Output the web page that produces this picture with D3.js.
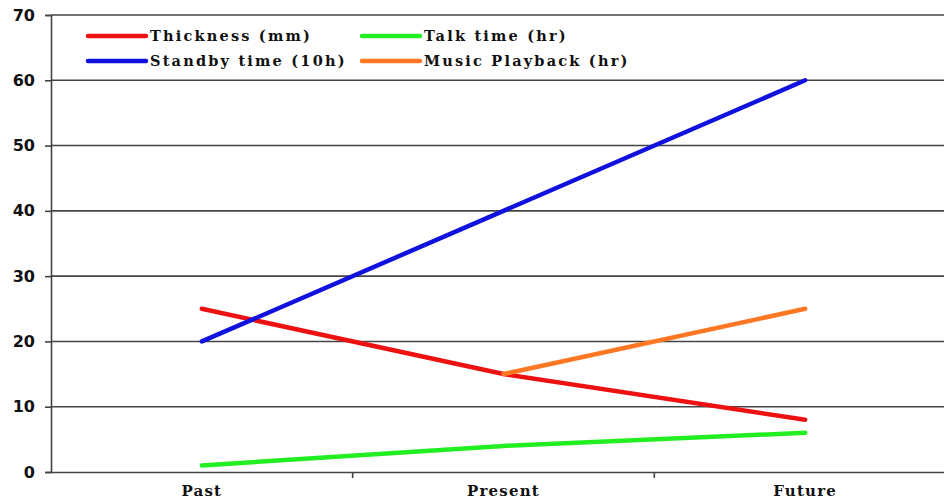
<!DOCTYPE html>
<html><head><meta charset="utf-8">
<script src="https://cdn.jsdelivr.net/npm/d3@7"></script>
<style>body{margin:0;background:#fff;overflow:hidden}</style>
</head><body><svg id="c" width="944" height="501"></svg>
<script>
const categories = ["Past", "Present", "Future"];
const thickness = [25, 15, 8];
const talkTime = [1, 4, 6];
const standby = [20, 40, 60];
const music = [null, 15, 25];
const yTicks = [0, 10, 20, 30, 40, 50, 60, 70];
const seriesNames = ["Thickness (mm)", "Talk time (hr)", "Standby time (10h)", "Music Playback (hr)"];
const seriesColors = ["#ee1111", "#22ee22", "#1111dd", "#ff7722"];
const seriesData = [thickness, talkTime, standby, music];

const svg = d3.select("#c");
const x = d3.scaleBand().domain(categories).range([51, 956]);
const y = d3.scaleLinear().domain([0, 70]).range([472, 15]);

// gridlines
svg.append("g").selectAll("line").data(yTicks.slice(1)).join("line")
  .attr("x1", 51).attr("x2", 944)
  .attr("y1", d => y(d)).attr("y2", d => y(d))
  .attr("stroke", "#444").attr("stroke-width", 1.6);

// y axis
const ya = svg.append("g").attr("transform", "translate(51,0)")
  .call(d3.axisLeft(y).tickValues(yTicks).tickSize(6).tickPadding(10));
ya.select(".domain").attr("stroke", "#444").attr("stroke-width", 1.6);
ya.selectAll(".tick line").attr("stroke", "#444").attr("stroke-width", 1.6);
ya.selectAll("text").attr("font-family", "DejaVu Sans").attr("font-weight", "bold")
  .attr("font-size", 16).attr("fill", "#111");

// x axis
const xa = svg.append("g").attr("transform", "translate(0,472)")
  .call(d3.axisBottom(x).tickSize(0).tickPadding(13));
xa.select(".domain").attr("stroke", "#444").attr("stroke-width", 1.6);
xa.selectAll("text").attr("font-family", "DejaVu Serif").attr("font-weight", "bold")
  .attr("font-size", 15).attr("letter-spacing", 1.2).attr("fill", "#111");
svg.append("g").selectAll("line").data(categories.slice(1)).join("line")
  .attr("x1", d => x(d)).attr("x2", d => x(d))
  .attr("y1", 472).attr("y2", 478).attr("stroke", "#444").attr("stroke-width", 1.6);

// lines
const line = d3.line()
  .defined(d => d.v !== null)
  .x(d => x(d.c) + x.bandwidth() / 2)
  .y(d => y(d.v));
const order = [1, 0, 3, 2];
order.forEach(i => {
  const pts = categories.map((c, j) => ({c, v: seriesData[i][j]}));
  svg.append("path").datum(pts).attr("d", line)
    .attr("fill", "none").attr("stroke", seriesColors[i])
    .attr("stroke-width", 4.5).attr("stroke-linecap", "round");
});

// legend
const legPos = [[88, 36], [362, 36], [88, 61], [362, 61]];
seriesNames.forEach((n, i) => {
  const [lx, ly] = legPos[i];
  svg.append("line").attr("x1", lx).attr("x2", lx + 58).attr("y1", ly).attr("y2", ly)
    .attr("stroke", seriesColors[i]).attr("stroke-width", 4.5).attr("stroke-linecap", "round");
  svg.append("text").attr("x", lx + 62).attr("y", ly + 5).text(n)
    .attr("font-family", "DejaVu Serif").attr("font-weight", "bold")
    .attr("font-size", 14.5).attr("letter-spacing", 2.2).attr("fill", "#111");
});
</script></body></html>
